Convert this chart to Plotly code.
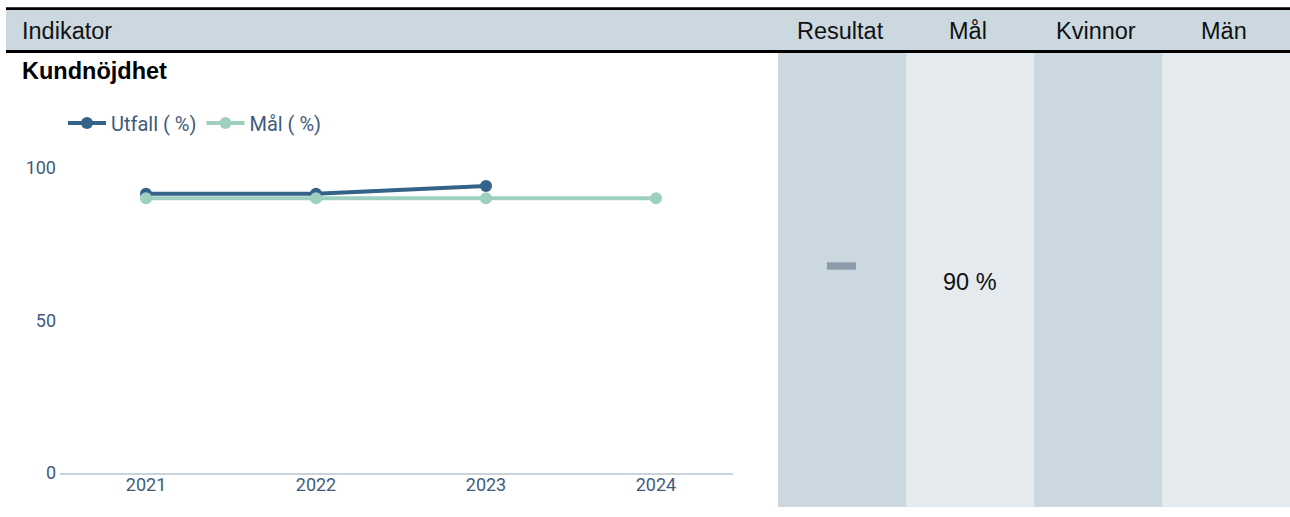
import plotly.graph_objects as go

# ---- data ----
years = ["2021", "2022", "2023", "2024"]
utfall = [91.5, 91.5, 94, None]
mal = [90, 90, 90, 90]
y_ticks = [0, 50, 100]
header_labels = ["Indikator", "Resultat", "Mål", "Kvinnor", "Män"]
indicator_name = "Kundnöjdhet"
goal_text = "90 %"
series_names = ["Utfall ( %)", "Mål ( %)"]

W, H = 1290, 517


def px(x):
    return x / W


def py(y):
    return 1 - y / H


DARK = "#336389"
MINT = "#9dd0c0"
TICK = "#3f5b7b"
COL_DARK = "#cbd8e0"
COL_LIGHT = "#e5eaee"

fig = go.Figure()
fig.add_trace(go.Scatter(x=years, y=utfall, name=series_names[0], mode="lines+markers",
                         line=dict(color=DARK, width=4), marker=dict(size=12, color=DARK)))
fig.add_trace(go.Scatter(x=years, y=mal, name=series_names[1], mode="lines+markers",
                         line=dict(color=MINT, width=4), marker=dict(size=12, color=MINT)))

shapes = []
cols = [(778, 906, COL_DARK), (906, 1034, COL_LIGHT), (1034, 1162, COL_DARK), (1162, 1290, COL_LIGHT)]
for x0, x1, c in cols:
    shapes.append(dict(type="rect", xref="paper", yref="paper", x0=px(x0), x1=px(x1),
                       y0=py(517), y1=py(54), fillcolor=c, line=dict(width=0), layer="below"))
shapes.append(dict(type="rect", xref="paper", yref="paper", x0=px(6), x1=px(1290),
                   y0=py(51), y1=py(10), fillcolor=COL_DARK, line=dict(width=0), layer="below"))
shapes.append(dict(type="line", xref="paper", yref="paper", x0=px(6), x1=px(1290),
                   y0=py(8.8), y1=py(8.8), line=dict(color="#000000", width=2.6)))
shapes.append(dict(type="line", xref="paper", yref="paper", x0=px(6), x1=px(1290),
                   y0=py(52.5), y1=py(52.5), line=dict(color="#000000", width=3)))
shapes.append(dict(type="rect", xref="paper", yref="paper", x0=px(827), x1=px(856),
                   y0=py(275), y1=py(267.5), fillcolor="#8a9bab", line=dict(width=0)))

annotations = []
FS = 23.5
head_font = dict(family="Liberation Sans, Arial", size=FS, color="#111111")
annotations.append(dict(text=header_labels[0], x=px(20), y=py(31.7), xref="paper", yref="paper",
                        xanchor="left", yanchor="middle", showarrow=False, font=head_font))
for lab, (x0, x1, _) in zip(header_labels[1:], cols):
    annotations.append(dict(text=lab, x=px((x0 + x1) / 2 - 2), y=py(31.7), xref="paper", yref="paper",
                            xanchor="center", yanchor="middle", showarrow=False, font=head_font))
annotations.append(dict(text="<b>" + indicator_name + "</b>", x=px(20), y=py(72.5), xref="paper",
                        yref="paper", xanchor="left", yanchor="middle", showarrow=False,
                        font=dict(family="Liberation Sans, Arial", size=FS, color="#000000")))
annotations.append(dict(text=goal_text, x=px(970), y=py(288), xref="paper", yref="paper",
                        xanchor="center", yanchor="middle", showarrow=False,
                        font=dict(family="Liberation Sans, Arial", size=FS, color="#111111")))

fig.update_layout(
    width=W, height=H,
    margin=dict(l=0, r=0, t=0, b=0),
    paper_bgcolor="#ffffff", plot_bgcolor="rgba(0,0,0,0)",
    showlegend=True,
    legend=dict(orientation="h", x=px(63), y=py(125.5), xanchor="left", yanchor="middle",
                font=dict(family="Roboto", size=20, color=TICK), bgcolor="rgba(0,0,0,0)",
                itemwidth=38, itemclick=False, tracegroupgap=0),
    xaxis=dict(type="category", domain=[px(60), px(733)], range=[-0.506, 3.453],
               showline=True, linecolor="#c8d3dc", linewidth=2, showgrid=False, zeroline=False,
               ticks="", ticklabelstandoff=-5,
               tickfont=dict(family="Roboto", size=18, color=TICK), fixedrange=True),
    yaxis=dict(domain=[py(482), py(140)], range=[0, 110], tickvals=y_ticks,
               showline=False, showgrid=False, zeroline=False, ticks="", ticklabelstandoff=3,
               tickfont=dict(family="Roboto", size=18, color=TICK), fixedrange=True),
    shapes=shapes, annotations=annotations,
)

page_css = ("var s='margin:0;padding:0;overflow:hidden;height:517px;width:1290px;';"
            "document.documentElement.style.cssText=s;document.body.style.cssText=s;")
fig.write_html("out.html", config={"displayModeBar": False, "staticPlot": True},
               post_script=page_css)
